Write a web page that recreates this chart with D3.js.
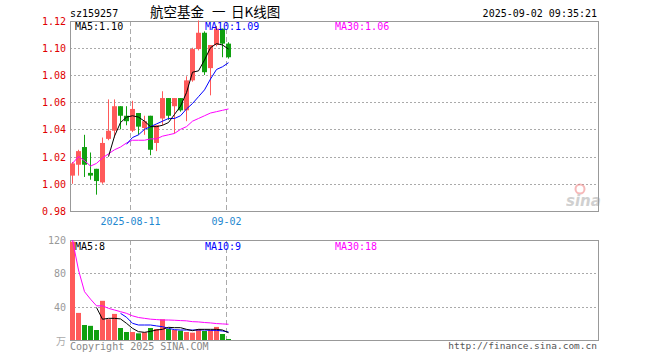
<!DOCTYPE html>
<html>
<head>
<meta charset="utf-8">
<script src="https://cdn.jsdelivr.net/npm/d3@7"></script>
<style>
  html, body { margin: 0; padding: 0; background: #fff; }
  svg { display: block; }
  text { font-family: "DejaVu Sans Mono", "Liberation Mono", monospace; font-size: 10px; }
</style>
</head>
<body>
<div id="chart"></div>
<script>
const dates = ["07-28","07-29","07-30","07-31","08-01","08-04","08-05","08-06","08-07","08-08",
  "08-11","08-12","08-13","08-14","08-15","08-18","08-19","08-20","08-21","08-22",
  "08-25","08-26","08-27","08-28","08-29","09-01","09-02"];
const open  = [1.006,1.014,1.027,1.008,1.011,1.001,1.033,1.039,1.057,1.050,1.039,1.052,1.041,1.050,1.030,1.048,1.063,1.057,1.063,1.054,1.076,1.099,1.111,1.085,1.102,1.114,1.103];
const high  = [1.016,1.025,1.036,1.023,1.011,1.034,1.062,1.062,1.057,1.057,1.061,1.052,1.050,1.050,1.043,1.068,1.063,1.063,1.063,1.079,1.100,1.120,1.112,1.102,1.116,1.114,1.104];
const low   = [1.000,1.006,1.005,1.003,0.992,1.000,1.032,1.034,1.040,1.043,1.038,1.036,1.036,1.021,1.024,1.043,1.047,1.037,1.053,1.046,1.075,1.098,1.080,1.065,1.101,1.093,1.092];
const close = [1.015,1.024,1.014,1.006,1.002,1.030,1.039,1.057,1.050,1.046,1.055,1.042,1.046,1.025,1.043,1.063,1.050,1.063,1.054,1.076,1.099,1.111,1.082,1.102,1.114,1.103,1.093];
const ma5  = [null,null,null,null,null,null,1.020,1.035,1.045,1.049,1.050,1.049,1.046,1.042,1.042,1.043,1.045,1.051,1.057,1.067,1.082,1.083,1.091,1.100,1.103,1.102,1.099];
const ma10 = [null,null,null,null,null,null,null,null,null,1.029,1.034,1.036,1.040,1.042,1.044,1.046,1.048,1.048,1.050,1.055,1.059,1.064,1.069,1.077,1.084,1.086,1.089];
const ma30 = [1.015,1.020,1.017,1.013,1.015,1.019,1.022,1.025,1.027,1.030,1.032,1.032,1.032,1.033,1.033,1.035,1.036,1.037,1.040,1.042,1.046,1.048,1.050,1.052,1.053,1.054,1.055];
const volume = [118,32.5,18,17,12,47,25,31.3,14.4,9.6,9.6,8,9.2,14.4,13.2,24.9,13.2,12,11.2,9.6,8.8,13.2,10.8,12,15.7,7.2,1.2];
const volMa5  = [null,null,null,null,39,24.9,26,26,25.3,20,14,10,9.2,10.4,12,12.8,15.2,14.8,14.8,12.8,11.2,12.8,12.8,12.8,12.8,12,8.8];
const volMa10 = [null,null,null,null,null,null,null,null,32,27.3,20,18,18,18,16.9,16,14,12.4,12,12,12,12,12,11.6,11.6,10.8,9.6];
const volMa30 = [120,84,58,49,41,41,38,36,34,32,29,27,26,25,24.5,24,24,23.7,23.3,23,22,21.7,21,20.5,19.7,19.3,18.9];
const priceTicks = [0.98,1.00,1.02,1.04,1.06,1.08,1.10,1.12];
const volTicks = [40,80,120];
const dateTicks = [{ d: "08-11", label: "2025-08-11" }, { d: "09-02", label: "09-02" }];
const titleParts = [{ t: "航空基金", x: 150 }, { t: "一", x: 212 }, { t: "日K线图", x: 231 }];

const RED = "#ff5a5a", GREEN = "#10a010", FRAME = "#999", GRID = "#aaa";

const svg = d3.select("#chart").append("svg").attr("width", 660).attr("height", 360);

const left = 70, right = 598;
const x = d3.scaleBand().domain(dates).range([left, left + dates.length * 6]);
const y = d3.scaleLinear().domain([0.98, 1.12]).range([211, 20.5]);
const yv = d3.scaleLinear().domain([0, 120]).range([340, 240]);
const cx = d => x(d) + 2.5;

// titles
svg.append("text").attr("x", 70).attr("y", 17).attr("fill", "#000").text("sz159257");
svg.selectAll(".title").data(titleParts).join("text")
  .attr("x", d => d.x).attr("y", 17).attr("fill", "#000")
  .style("font-family", "'Noto Sans CJK SC', sans-serif").style("font-size", "13.5px")
  .text(d => d.t);
svg.append("text").attr("x", 597).attr("y", 17).attr("text-anchor", "end").attr("fill", "#000")
  .text("2025-09-02 09:35:21");

// grid lines
const grid = svg.append("g");
grid.selectAll(".hp").data(priceTicks.filter(t => t > 0.98 && t < 1.12)).join("line")
  .attr("x1", left).attr("x2", right).attr("y1", d => Math.round(y(d)) + 0.5).attr("y2", d => Math.round(y(d)) + 0.5)
  .attr("stroke", GRID).attr("stroke-dasharray", "2,2");
grid.selectAll(".hv").data(volTicks.filter(t => t < 120)).join("line")
  .attr("x1", left).attr("x2", right).attr("y1", d => Math.round(yv(d)) + 0.5).attr("y2", d => Math.round(yv(d)) + 0.5)
  .attr("stroke", GRID).attr("stroke-dasharray", "2,2");
dateTicks.forEach(t => {
  const xx = x(t.d) + 0.5;
  grid.append("line").attr("x1", xx).attr("x2", xx).attr("y1", 21).attr("y2", 211)
    .attr("stroke", GRID).attr("stroke-dasharray", "5,3");
  grid.append("line").attr("x1", xx).attr("x2", xx).attr("y1", 240).attr("y2", 340)
    .attr("stroke", GRID).attr("stroke-dasharray", "5,3");
  svg.append("text").attr("x", xx).attr("y", 225).attr("text-anchor", "middle")
    .attr("fill", "#1f88d0").text(t.label);
});

// sina logo
const logo = svg.append("g").attr("opacity", 0.55);
logo.append("circle").attr("cx", 580).attr("cy", 189).attr("r", 4.5).attr("fill", "none").attr("stroke", "#f08080").attr("stroke-width", 2);
logo.append("text").attr("x", 566).attr("y", 206).attr("fill", "#aaa")
  .style("font-family", "'DejaVu Sans', sans-serif").style("font-size", "15px")
  .style("font-style", "italic").style("font-weight", "bold").text("sina");

// frames
[[20.5, 211], [240, 340]].forEach(([t, b]) => {
  svg.append("rect").attr("x", left + 0.5).attr("y", Math.round(t) + 0.5)
    .attr("width", right - left).attr("height", Math.round(b) - Math.round(t))
    .attr("fill", "none").attr("stroke", FRAME);
});

// price axis labels
svg.selectAll(".pl").data(priceTicks).join("text")
  .attr("x", 66).attr("y", d => y(d) + 4).attr("text-anchor", "end").attr("fill", "#e00000")
  .text(d => d.toFixed(2));
svg.selectAll(".vl").data(volTicks).join("text")
  .attr("x", 66).attr("y", d => yv(d) + 4).attr("text-anchor", "end").attr("fill", "#999")
  .text(d => d);
svg.append("text").attr("x", 66).attr("y", 345).attr("text-anchor", "end").attr("fill", "#aaa")
  .style("font-family", "'Noto Sans CJK SC', sans-serif").text("万");

// candles
const rows = dates.map((d, i) => ({ d, o: open[i], h: high[i], l: low[i], c: close[i], v: volume[i] }));
const colorOf = r => r.c >= r.o ? RED : GREEN;
const cg = svg.append("g");
cg.selectAll(".wick").data(rows).join("line")
  .attr("x1", r => x(r.d) + 2.5).attr("x2", r => x(r.d) + 2.5)
  .attr("y1", r => y(r.h)).attr("y2", r => y(r.l))
  .attr("stroke", colorOf).attr("stroke-width", 1);
cg.selectAll(".body").data(rows).join("rect")
  .attr("x", r => x(r.d)).attr("width", 5)
  .attr("y", r => y(Math.max(r.o, r.c)))
  .attr("height", r => Math.max(1, Math.abs(y(r.o) - y(r.c))))
  .attr("fill", colorOf);

// volume bars
cg.selectAll(".vbar").data(rows).join("rect")
  .attr("x", r => x(r.d)).attr("width", 5)
  .attr("y", r => yv(r.v)).attr("height", r => yv(0) - yv(r.v))
  .attr("fill", colorOf);

// moving averages
function maLine(vals, scale, color) {
  const line = d3.line().defined(d => d[1] != null).x(d => cx(d[0])).y(d => scale(d[1]));
  svg.append("path").datum(dates.map((d, i) => [d, vals[i]]))
    .attr("d", line).attr("fill", "none").attr("stroke", color).attr("stroke-width", 1);
}
maLine(ma30, y, "#ff00ff");
maLine(ma10, y, "#0000ff");
maLine(ma5, y, "#000");
maLine(volMa30, yv, "#ff00ff");
maLine(volMa10, yv, "#0000ff");
maLine(volMa5, yv, "#000");

// legends
const legends = [
  { x: 75, y: 30, t: "MA5:1.10", c: "#000" },
  { x: 205, y: 30, t: "MA10:1.09", c: "#0000ff" },
  { x: 335, y: 30, t: "MA30:1.06", c: "#ff00ff" },
  { x: 75, y: 250, t: "MA5:8", c: "#000" },
  { x: 205, y: 250, t: "MA10:9", c: "#0000ff" },
  { x: 335, y: 250, t: "MA30:18", c: "#ff00ff" }
];
svg.selectAll(".lg").data(legends).join("text")
  .attr("x", d => d.x).attr("y", d => d.y).attr("fill", d => d.c).text(d => d.t);

// footer
svg.append("text").attr("x", 70).attr("y", 350).attr("fill", "#888").text("Copyright 2025 SINA.COM");
svg.append("text").attr("x", 597).attr("y", 349).attr("text-anchor", "end").attr("fill", "#555")
  .style("font-size", "9.5px").text("http://finance.sina.com.cn");
</script>
</body>
</html>
